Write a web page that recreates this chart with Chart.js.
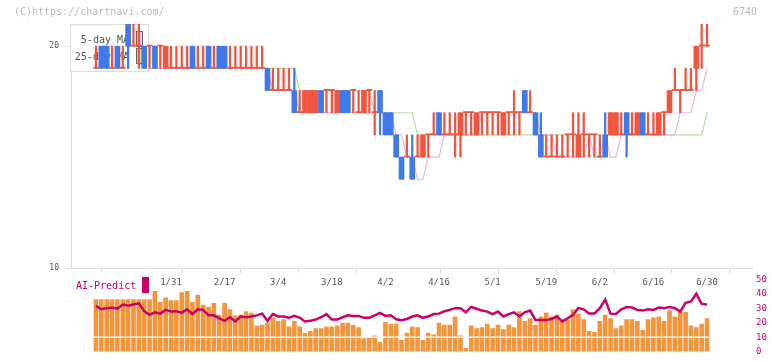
<!DOCTYPE html>
<html>
<head>
<meta charset="utf-8">
<script src="https://cdn.jsdelivr.net/npm/chart.js@4.4.1/dist/chart.umd.min.js"></script>
<style>
  body { margin: 0; background: #fff; }
  #wrap { position: relative; width: 772px; height: 361px; overflow: hidden; font-family: "DejaVu Sans Mono", monospace; }
  #wrap canvas { position: absolute; left: 0; }
  .txt { position: absolute; white-space: nowrap; line-height: 1; }
</style>
</head>
<body>
<div id="wrap">
  <canvas id="priceChart" width="772" height="300" style="top:0"></canvas>
  <canvas id="aiChart" width="772" height="91" style="top:270px"></canvas>
  <div class="txt" style="left:14px;top:7px;font-size:10px;color:#bbb">(C)https://chartnavi.com/</div>
  <div class="txt" style="left:733px;top:7px;font-size:10px;color:#bbb">6740</div>
  <div class="txt" style="left:76px;top:281px;font-size:10px;color:#cc0066">AI-Predict</div>
  <div style="position:absolute;left:142px;top:277px;width:7px;height:16px;background:#cc0066"></div>
</div>
<script>
// date labels every 10 trading days (index of the candle they sit on)
const dateLabels = ['1/31', '2/17', '3/4', '3/18', '4/2', '4/16', '5/1', '5/19', '6/2', '6/16', '6/30'];
const labelIdx = [14, 24, 34, 44, 54, 64, 74, 84, 94, 104, 114];

// daily candles, 1/10 .. 6/30
const open = [
  19,20,20,19,20,19,21,20,20,20, 20,20,20,19,19,19,19,19,20,19,
  19,20,19,20,20,19,19,19,19,19, 19,19,19,18,18,18,18,18,17,17,
  17,17,18,18,18,17,18,18,18,17, 17,18,17,18,17,17,16,15,15,15,
  15,15,16,16,17,16,16,16,16,17, 17,16,17,17,17,17,16,17,17,17,
  18,17,17,16,15,15,15,15,16,16, 15,16,16,16,15,16,16,16,16,17,
  16,16,17,16,16,16,17,17,18,18, 18,18,19,20,20
];
const high = [
  20,20,20,20,20,20,21,21,21,20, 20,20,20,20,20,20,20,20,20,20,
  20,20,20,20,20,20,20,20,20,20, 20,20,19,19,19,19,19,19,18,18,
  18,18,18,18,18,18,18,18,18,18, 18,18,18,18,17,17,16,15,16,16,
  16,16,16,17,17,17,17,17,17,17, 17,17,17,17,17,17,17,17,18,17,
  18,18,17,17,16,16,16,16,16,17, 17,17,16,16,16,17,17,17,17,17,
  17,17,17,17,17,17,17,18,19,18, 19,19,20,21,21
];
const low = [
  19,19,19,19,19,19,19,20,19,19, 19,19,19,19,19,19,19,19,19,19,
  19,19,19,19,19,19,19,19,19,19, 19,19,18,18,18,18,18,17,17,17,
  17,17,17,17,17,17,17,17,17,17, 17,17,16,16,16,16,15,14,15,14,
  15,15,15,16,16,16,16,15,15,16, 16,16,16,16,16,16,16,16,16,16,
  17,17,16,15,15,15,15,15,15,15, 15,15,15,15,15,15,16,16,16,15,
  16,16,16,16,16,16,16,17,18,17, 18,18,18,19,20
];
const close = [
  19,19,19,19,19,19,20,20,20,19, 20,19,20,20,19,19,19,19,19,19,
  19,19,19,19,19,19,19,19,19,19, 19,19,18,18,18,18,18,17,17,18,
  18,18,17,18,18,18,17,17,18,17, 18,18,17,17,16,16,15,14,15,14,
  15,16,16,16,16,16,16,16,17,17, 17,17,17,17,17,17,17,17,17,17,
  17,17,16,15,15,15,15,15,16,16, 16,16,16,16,15,15,17,17,16,16,
  16,17,16,16,16,17,17,18,18,18, 18,18,20,20,20
];

// moving averages as drawn on the chart
const ma5 = [
  19,19,19,19,19,19,19,19,19,19, 19,19,19,19,19,19,19,19,19,19,
  19,19,19,19,19,19,19,19,19,19, 19,19,19,18,18,18,18,18,17,17,
  17,17,17,17,17,17,17,17,17,17, 17,17,17,17,17,17,16,16,15,15,
  14,14,15,15,15,16,16,16,16,16, 16,16,17,17,17,17,17,17,17,17,
  17,17,17,16,16,16,15,15,15,15, 15,15,16,15,15,16,15,15,16,16,
  16,16,16,16,16,16,16,16,16,17, 17,17,18,18,19
];
const ma25 = [
  19,19,19,19,19,19,19,19,19,19, 19,19,19,19,19,19,19,19,19,19,
  19,19,19,19,19,19,19,19,19,19, 19,19,19,19,19,19,19,19,18,18,
  18,18,18,18,18,18,18,18,18,18, 18,18,17,17,17,17,17,17,17,17,
  16,16,16,16,16,16,16,16,16,16, 16,16,16,16,16,16,16,16,16,16,
  16,16,16,16,16,16,16,16,16,16, 16,16,16,16,16,16,16,16,16,16,
  16,16,16,16,16,16,16,16,16,16, 16,16,16,16,17
];

// lower panel
const volume = [
  36.1,36.1,36.1,36.1,36.1,36.1,36.1,36.1,36.1,36.1,
  36.1,41.8,34.1,37.2,35.3,35.3,40.9,41.8,34.1,39.1,
  32.2,30.9,33.4,25.3,33.4,29.1,24.7,25.3,27.8,26.6,
  17.8,18.4,19.7,23.4,20.9,22.2,17.2,20.9,17.2,12.8,
  14.1,15.9,15.9,17.2,17.2,17.8,19.7,19.7,18.4,16.6,
  9.1,9.7,10.9,6.6,20.3,19.1,19.1,7.8,12.8,17.2,
  16.6,7.8,12.8,11.6,19.7,18.4,18.4,24.1,10.9,2.2,
  17.8,15.9,16.6,19.1,15.9,18.4,15.3,18.4,16.6,27.8,
  20.9,22.8,18.4,24.1,26.6,24.1,25.3,20.9,21.6,29.1,
  25.9,22.2,14.1,13.4,20.9,25.3,22.8,15.9,17.8,22.2,
  22.2,20.9,14.7,22.2,23.4,24.1,20.9,28.4,24.1,27.2,
  27.2,17.8,16.6,19.1,22.8
];
const predict = [
  31.8,29.3,30.1,30.5,29.7,32.6,31.8,32.6,33.4,28.0,
  25.5,27.2,26.3,28.9,27.7,28.0,26.8,29.3,26.0,29.3,
  28.9,25.1,25.1,23.0,21.3,23.8,20.9,24.3,23.8,24.3,
  25.1,26.3,21.3,26.0,24.3,24.3,23.4,24.7,23.4,20.9,
  21.3,22.2,23.8,26.0,22.2,22.2,23.8,25.1,24.7,24.7,
  23.4,23.4,25.1,26.8,24.7,25.1,22.4,21.8,22.6,24.3,
  25.1,23.4,24.3,26.0,26.3,28.0,28.9,30.1,30.1,27.2,
  30.9,29.7,28.4,27.7,26.0,27.7,24.3,26.0,27.2,24.3,
  27.2,28.4,21.8,21.8,21.8,22.6,24.3,20.9,23.0,25.5,
  30.1,29.3,26.3,26.3,30.1,36.0,26.3,26.0,29.3,30.9,
  30.5,28.9,28.4,29.3,28.9,30.5,30.1,30.9,30.1,27.7,
  33.8,34.7,40.1,33.0,32.6
];

const upColor = '#f2543f';
const downColor = '#4079ea';
const xMin = -4.66, xMax = 122.39;   // candle 0 sits at x=96, last one at 707
const monoFont = 'DejaVu Sans Mono';

const candleColor = close.map((c, i) => (c >= open[i] ? upColor : downColor));
const pts = (arr) => arr.map((v, i) => ({ x: i, y: v }));

// legend box sits under the candles but over the MA lines
const legendBox = {
    id: 'legendBox',
    beforeDatasetDraw(chart, args) {
        if (args.index !== 2) return;
        const ctx = chart.ctx;
        const ds = chart.data.datasets;
        ctx.save();
        ctx.fillStyle = 'rgba(255,255,255,0.95)';
        ctx.fillRect(70, 24, 78, 47);
        ctx.strokeStyle = '#ddd';
        ctx.lineWidth = 1;
        ctx.strokeRect(70.5, 24.5, 78, 47);
        ctx.font = '10px "' + monoFont + '"';
        ctx.fillStyle = '#555';
        ctx.textAlign = 'right';
        ctx.textBaseline = 'middle';
        ctx.fillText(ds[1].label, 129, 40);
        ctx.fillText(ds[0].label, 129, 57);
        ctx.strokeStyle = '#666';
        ctx.fillStyle = '#f3c3ef';
        ctx.fillRect(136.5, 31.5, 6, 15);
        ctx.strokeRect(136.5, 31.5, 6, 15);
        ctx.fillStyle = '#c3e0b4';
        ctx.fillRect(136.5, 48.5, 6, 15);
        ctx.strokeRect(136.5, 48.5, 6, 15);
        ctx.restore();
    },
};

new Chart(document.getElementById('priceChart'), {
    type: 'bar',
    data: {
        datasets: [
            {
                type: 'line',
                label: '25-day MA',
                data: pts(ma25),
                borderColor: '#b6dba6',
                borderWidth: 1.2,
                pointRadius: 0,
                order: 4,
            },
            {
                type: 'line',
                label: '5-day MA',
                data: pts(ma5),
                borderColor: '#ebb3ea',
                borderWidth: 1.2,
                pointRadius: 0,
                order: 3,
            },
            {
                label: 'wick',
                data: open.map((o, i) => ({ x: i, y: [low[i], high[i]] })),
                backgroundColor: candleColor,
                barThickness: 1.6,
                grouped: false,
                order: 2,
            },
            {
                label: 'body',
                data: open.map((o, i) => ({ x: i, y: [o, close[i]] })),
                backgroundColor: candleColor,
                barThickness: 5,
                minBarLength: 1.2,
                grouped: false,
                order: 1,
            },
        ],
    },
    options: {
        responsive: false,
        animation: false,
        events: [],
        layout: { padding: { left: 0, top: 24, right: 20, bottom: 0 } },
        plugins: { legend: { display: false }, tooltip: { enabled: false } },
        scales: {
            x: {
                type: 'linear',
                min: xMin,
                max: xMax,
                offset: false,
                afterBuildTicks: (axis) => {
                    const marks = [];
                    for (let k = 0; k <= 11; k++) marks.push({ value: xMin + (k * (xMax - xMin)) / 11 });
                    axis.ticks = marks.concat(labelIdx.map((v) => ({ value: v })))
                        .sort((a, b) => a.value - b.value);
                },
                afterFit: (axis) => { axis.height = 32; },
                grid: {
                    drawOnChartArea: false,
                    tickLength: 5,
                    color: (ctx) => (ctx.tick && labelIdx.includes(ctx.tick.value) ? 'rgba(0,0,0,0)' : '#ddd'),
                },
                border: { color: '#ddd' },
                ticks: {
                    autoSkip: false,
                    maxRotation: 0,
                    minRotation: 0,
                    padding: 4,
                    color: '#555',
                    font: { family: monoFont, size: 9 },
                    callback: (value) => {
                        const j = labelIdx.indexOf(value);
                        return j >= 0 ? dateLabels[j] : '';
                    },
                },
            },
            y: {
                min: 10,
                max: 21,
                afterBuildTicks: (axis) => { axis.ticks = [{ value: 10 }, { value: 20 }]; },
                afterFit: (axis) => { axis.width = 71; },
                grid: { drawOnChartArea: false, tickLength: 6, color: '#ddd' },
                border: { color: '#ddd' },
                ticks: { padding: 6, color: '#555', font: { family: monoFont, size: 8 } },
            },
        },
    },
    plugins: [legendBox],
});

// white rule through the volume bars at 10
const whiteRule = {
    id: 'whiteRule',
    afterDatasetDraw(chart, args) {
        if (args.index !== 1) return;
        const ctx = chart.ctx;
        const y = chart.scales.y.getPixelForValue(10);
        ctx.save();
        ctx.strokeStyle = '#fff';
        ctx.lineWidth = 1.5;
        ctx.beginPath();
        ctx.moveTo(chart.chartArea.left, y);
        ctx.lineTo(chart.chartArea.right, y);
        ctx.stroke();
        ctx.restore();
    },
};

new Chart(document.getElementById('aiChart'), {
    type: 'bar',
    data: {
        datasets: [
            {
                type: 'line',
                label: 'AI-Predict',
                data: pts(predict),
                borderColor: '#cc0066',
                borderWidth: 2.5,
                pointRadius: 0,
                order: 1,
            },
            {
                label: 'volume',
                data: pts(volume),
                backgroundColor: '#f2963e',
                barThickness: 4,
                order: 2,
            },
        ],
    },
    options: {
        responsive: false,
        animation: false,
        events: [],
        layout: { padding: { left: 71, top: 8, right: 0, bottom: 3 } },
        plugins: { legend: { display: false }, tooltip: { enabled: false } },
        scales: {
            x: { type: 'linear', min: xMin, max: xMax, offset: false, display: false },
            y: {
                position: 'right',
                min: 0,
                max: 50,
                afterFit: (axis) => { axis.width = 20; },
                grid: { display: false, drawTicks: false },
                border: { display: false },
                ticks: { stepSize: 10, padding: 4, color: '#cc0066', font: { family: monoFont, size: 9 } },
            },
        },
    },
    plugins: [whiteRule],
});
</script>
</body>
</html>
